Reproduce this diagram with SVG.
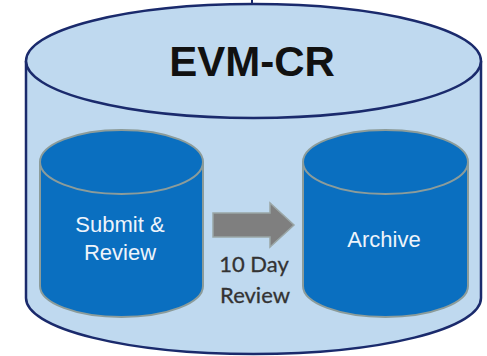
<svg xmlns="http://www.w3.org/2000/svg" width="487" height="356" viewBox="0 0 487 356">
<style>
.outer{fill:#bfd9ef;stroke:#1a2a6c;stroke-width:2.5}
.inner{fill:#0a6fc0;stroke:#8c9c9a;stroke-width:2}
.lbl{font-family:"Liberation Sans",Arial,sans-serif;font-size:22px;fill:#eef4fb;text-anchor:middle}
.title{font-family:"Liberation Sans",Arial,sans-serif;font-size:42px;font-weight:bold;fill:#111;text-anchor:middle}
.elbl{font-family:Lato,"Liberation Sans",sans-serif;font-size:22px;fill:#333;text-anchor:middle;stroke:#333;stroke-width:0.3}
</style>
<rect width="487" height="356" fill="#fff"/>
<g id="evm-cr">
<line x1="252" y1="0" x2="252" y2="4" stroke="#1a2a6c" stroke-width="2"/>
<path class="outer" d="M26,61 L26,298 A227.5,56 0 0 0 481,298 L481,61"/>
<ellipse class="outer" cx="253.5" cy="61" rx="227.5" ry="57"/>
<text class="title" x="252" y="76">EVM-CR</text>
</g>
<g id="submit-review">
<path class="inner" d="M40,162 L40,286 A81.5,31 0 0 0 203,286 L203,162"/>
<ellipse class="inner" cx="121.5" cy="162" rx="81.5" ry="32"/>
<text class="lbl" x="120" y="232">Submit &amp;</text>
<text class="lbl" x="120" y="260">Review</text>
</g>
<g id="archive">
<path class="inner" d="M303,162 L303,286 A82.5,31 0 0 0 468,286 L468,162"/>
<ellipse class="inner" cx="385.5" cy="162" rx="82.5" ry="32"/>
<text class="lbl" x="384" y="247">Archive</text>
</g>
<g id="connectors">
<path d="M213,213 L270,213 L270,203 L294,225 L270,247 L270,237 L213,237 Z" fill="#7f7f7f" stroke="#9aa6a6" stroke-width="1.5"/>
<text class="elbl" x="254" y="272">10 Day</text>
<text class="elbl" x="255" y="303">Review</text>
</g>
</svg>
